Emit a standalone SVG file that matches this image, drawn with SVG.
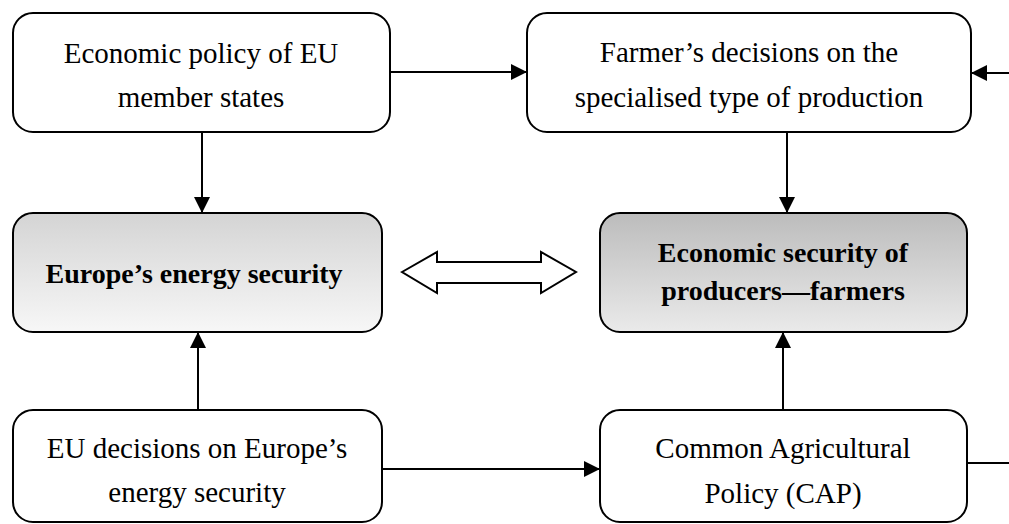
<svg xmlns="http://www.w3.org/2000/svg" width="1009" height="524" viewBox="0 0 1009 524">
  <style>
    .box { stroke: #000; stroke-width: 2; }
    .plain { fill: #fff; }
    .t { font-family: "Liberation Serif", "Times New Roman", serif; font-size: 29px; fill: #000; text-anchor: middle; }
    .b { font-weight: bold; font-size: 28px; }
    .link { stroke: #000; stroke-width: 2; fill: none; }
    .head { marker-end: url(#arrow); }
  </style>
  <defs>
    <linearGradient id="gLight" x1="0" y1="0" x2="0" y2="1">
      <stop offset="0" stop-color="#d4d4d4"/>
      <stop offset="1" stop-color="#f7f7f7"/>
    </linearGradient>
    <linearGradient id="gDark" x1="0" y1="0" x2="0" y2="1">
      <stop offset="0" stop-color="#bcbcbc"/>
      <stop offset="1" stop-color="#eaeaea"/>
    </linearGradient>
    <marker id="arrow" markerUnits="userSpaceOnUse" markerWidth="16" markerHeight="16" viewBox="0 0 16 16" refX="16" refY="8" orient="auto">
      <path d="M0,0 L16,8 L0,16 Z" fill="#000"/>
    </marker>
  </defs>

  <!-- connectors -->
  <g id="connectors">
    <line class="link head" x1="390" y1="72" x2="527" y2="72"/>
    <line class="link head" x1="1009" y1="73" x2="971" y2="73"/>
    <line class="link head" x1="202" y1="132" x2="202" y2="213"/>
    <line class="link head" x1="787" y1="132" x2="787" y2="213"/>
    <line class="link head" x1="198" y1="410" x2="198" y2="332"/>
    <line class="link head" x1="783" y1="410" x2="783" y2="332"/>
    <line class="link head" x1="382" y1="469" x2="600" y2="469"/>
    <line class="link" x1="967" y1="463" x2="1009" y2="463"/>
    <!-- two-way hollow arrow between the two security boxes -->
    <path d="M402,272 L437,252 L437,262 L541,262 L541,252 L576,272 L541,293 L541,283 L437,283 L437,293 Z" fill="#fff" stroke="#000" stroke-width="2" stroke-linejoin="miter"/>
  </g>

  <g id="node-economic-policy">
    <rect class="box plain" x="13" y="13" width="377" height="119" rx="20"/>
    <text class="t" x="201" y="63">Economic policy of EU</text>
    <text class="t" x="201" y="107">member states</text>
  </g>

  <g id="node-farmer-decisions">
    <rect class="box plain" x="527" y="13" width="444" height="119" rx="20"/>
    <text class="t" x="749" y="62">Farmer’s decisions on the</text>
    <text class="t" x="749" y="107">specialised type of production</text>
  </g>

  <g id="node-energy-security">
    <rect class="box" x="13" y="213" width="369" height="119" rx="20" fill="url(#gLight)"/>
    <text class="t b" x="194" y="283">Europe’s energy security</text>
  </g>

  <g id="node-farmer-security">
    <rect class="box" x="600" y="213" width="367" height="119" rx="20" fill="url(#gDark)"/>
    <text class="t b" x="783" y="262">Economic security of</text>
    <text class="t b" x="783" y="300">producers—farmers</text>
  </g>

  <g id="node-eu-decisions">
    <rect class="box plain" x="13" y="410" width="369" height="112" rx="20"/>
    <text class="t" x="197" y="458">EU decisions on Europe’s</text>
    <text class="t" x="197" y="502">energy security</text>
  </g>

  <g id="node-cap">
    <rect class="box plain" x="600" y="410" width="367" height="112" rx="20"/>
    <text class="t" x="783" y="458">Common Agricultural</text>
    <text class="t" x="783" y="503">Policy (CAP)</text>
  </g>
</svg>
